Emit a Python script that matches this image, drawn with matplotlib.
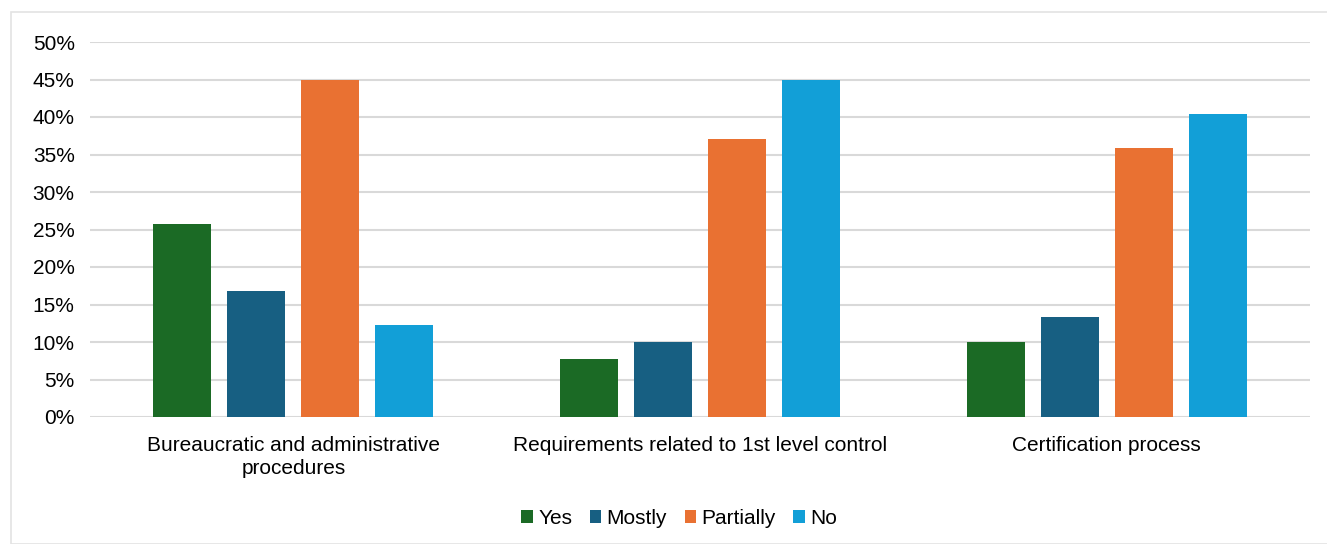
import numpy as np
import matplotlib.pyplot as plt
from matplotlib.patches import Rectangle
from matplotlib.ticker import PercentFormatter

plt.rcParams['font.family'] = ['Liberation Sans', 'DejaVu Sans']

# Survey answers per topic (share of respondents, %)
categories = ['Bureaucratic and administrative\nprocedures',
              'Requirements related to 1st level control',
              'Certification process']
series = ['Yes', 'Mostly', 'Partially', 'No']
yes = [25.8, 7.8, 10.0]
mostly = [16.8, 10.0, 13.4]
partially = [45.0, 37.1, 35.9]
no = [12.3, 45.0, 40.4]
colors = ['#1B6A25', '#175F82', '#E97132', '#129FD7']

fig = plt.figure(figsize=(13.27, 5.44), dpi=100)
fig.patches.append(Rectangle((11 / 1327, 0), 1.0, 1 - 12 / 544, transform=fig.transFigure,
                             fill=False, edgecolor='#E3E3E3', linewidth=1.2))
ax = fig.add_axes([90 / 1327, 1 - 417 / 544, 1220 / 1327, 375 / 544])

x = np.arange(len(categories))
step = 0.182
width = 0.143
for i, (name, vals) in enumerate(zip(series, [yes, mostly, partially, no])):
    ax.bar(x + (i - 1.5) * step, vals, width, color=colors[i], label=name, zorder=3)

ax.set_xlim(-0.5, 2.5)
ax.set_ylim(0, 50)
ax.set_yticks(np.arange(0, 51, 5))
ax.yaxis.set_major_formatter(PercentFormatter(decimals=0))
ax.set_xticks(x)
ax.set_xticklabels(categories, fontsize=15, linespacing=1.25)
ax.tick_params(axis='y', labelsize=15, length=0, pad=11)
ax.tick_params(axis='x', length=0, pad=14)
ax.grid(axis='y', color='#D9D9D9', linewidth=1.5, zorder=0)
for s in ax.spines.values():
    s.set_visible(False)

ax.legend(loc='center', bbox_to_anchor=(0.483, -0.27), ncol=4, frameon=False,
          fontsize=15, handlelength=0.55, handleheight=0.55, handletextpad=0.25,
          columnspacing=0.85)

fig.savefig('out.png', dpi=100)
